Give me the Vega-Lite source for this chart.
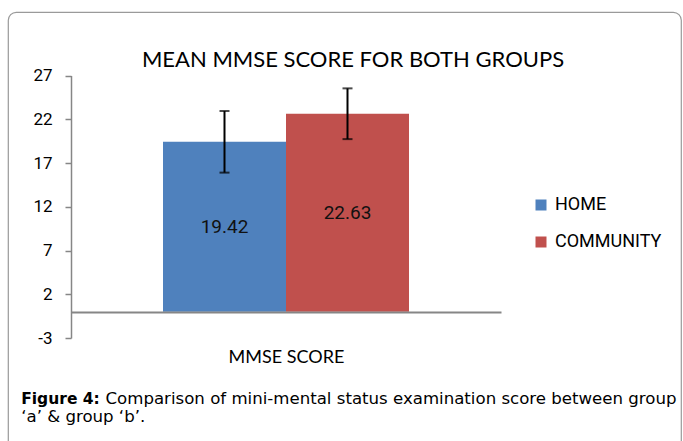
{
  "$schema": "https://vega.github.io/schema/vega-lite/v6.json",
  "width": 673,
  "height": 440,
  "autosize": {"type": "none"},
  "padding": {"left": 8, "top": 12, "right": 2, "bottom": 0},
  "config": {
    "view": {"stroke": "#9a9a9a", "strokeWidth": 1.2, "cornerRadius": 8},
    "font": "Liberation Sans"
  },
  "title": {
    "text": "MEAN MMSE SCORE FOR BOTH GROUPS",
    "font": "Lato",
    "fontSize": 22,
    "fontWeight": "normal",
    "color": "#000000",
    "anchor": "middle",
    "frame": "group",
    "dx": 8.5,
    "offset": -77,
    "baseline": "alphabetic"
  },
  "data": {
    "values": [
      {"group": "HOME", "mean": 19.42, "lo": 15.9, "hi": 22.94},
      {"group": "COMMUNITY", "mean": 22.63, "lo": 19.73, "hi": 25.53}
    ]
  },
  "resolve": {"axis": {"x": "independent"}},
  "layer": [
    {
      "mark": {"type": "bar"},
      "encoding": {
        "x": {
          "field": "group", "type": "nominal", "sort": ["HOME", "COMMUNITY"],
          "scale": {"range": [63, 493], "paddingInner": 0, "paddingOuter": 0.748},
          "axis": {
            "orient": "bottom", "offset": -114, "title": "MMSE SCORE",
            "labels": false, "ticks": false, "domain": false,
            "titleFont": "Lato", "titleFontSize": 18, "titleFontWeight": "normal",
            "titleColor": "#000000", "titleY": 24, "titleBaseline": "alphabetic"
          }
        },
        "y": {
          "field": "mean", "type": "quantitative",
          "scale": {"domain": [-3, 27], "range": [326, 63.5], "zero": false, "nice": false},
          "axis": {
            "title": null, "offset": -63, "values": [-3, 2, 7, 12, 17, 22, 27], "grid": false,
            "labelExpr": "'' + datum.value",
            "domainColor": "#868686", "domainWidth": 1.5, "tickColor": "#868686", "tickWidth": 1.5, "tickSize": 6,
            "labelPadding": 13, "labelFont": "Roboto", "labelFontSize": 17, "labelColor": "#000000"
          }
        },
        "y2": {"datum": 0},
        "color": {
          "field": "group", "type": "nominal",
          "scale": {"domain": ["HOME", "COMMUNITY"], "range": ["#4F81BD", "#C0504D"]},
          "legend": {
            "orient": "none", "legendX": 524, "legendY": 184, "title": null,
            "symbolType": "square", "symbolSize": 121, "symbolStrokeWidth": 0,
            "labelFont": "Roboto", "labelFontSize": 18, "labelColor": "#000000",
            "rowPadding": 19, "labelOffset": 5
          }
        }
      }
    },
    {
      "mark": {"type": "rule", "color": "#000000", "strokeWidth": 2},
      "encoding": {
        "x": {
          "field": "group", "type": "nominal", "sort": ["HOME", "COMMUNITY"],
          "axis": {
            "orient": "bottom", "offset": -140, "title": null, "labels": false, "ticks": false,
            "domain": true, "domainColor": "#868686", "domainWidth": 1.8, "zindex": 1
          }
        },
        "y": {"field": "lo", "type": "quantitative", "axis": {"title": null}},
        "y2": {"field": "hi"}
      }
    },
    {
      "mark": {"type": "tick", "orient": "horizontal", "color": "#000000", "size": 10, "thickness": 2},
      "encoding": {
        "x": {
          "field": "group", "type": "nominal", "sort": ["HOME", "COMMUNITY"],
          "axis": {
            "orient": "bottom", "title": "Figure 4:", "labels": false, "ticks": false, "domain": false,
            "titleX": 12.7, "titleY": -49, "titleAlign": "left", "titleAnchor": "start", "titleBaseline": "alphabetic",
            "titleFont": "DejaVu Sans", "titleFontSize": 15.5, "titleFontWeight": "bold", "titleColor": "#000000"
          }
        },
        "y": {"field": "lo", "type": "quantitative", "axis": {"title": null}}
      }
    },
    {
      "mark": {"type": "tick", "orient": "horizontal", "color": "#000000", "size": 10, "thickness": 2},
      "encoding": {
        "x": {
          "field": "group", "type": "nominal", "sort": ["HOME", "COMMUNITY"],
          "axis": {
            "orient": "bottom", "title": "Comparison of mini-mental status examination score between group", "labels": false, "ticks": false, "domain": false,
            "titleX": 97, "titleY": -49, "titleAlign": "left", "titleAnchor": "start", "titleBaseline": "alphabetic",
            "titleFont": "DejaVu Sans", "titleFontSize": 16.6, "titleFontWeight": "normal", "titleColor": "#000000"
          }
        },
        "y": {"field": "hi", "type": "quantitative", "axis": {"title": null}}
      }
    },
    {
      "transform": [{"calculate": "datum.mean / 2", "as": "label_y"}],
      "mark": {"type": "text", "font": "Roboto", "fontSize": 19, "color": "#111111", "baseline": "middle"},
      "encoding": {
        "x": {
          "field": "group", "type": "nominal", "sort": ["HOME", "COMMUNITY"],
          "axis": {
            "orient": "bottom", "title": "‘a’ & group ‘b’.", "labels": false, "ticks": false, "domain": false,
            "titleX": 12.7, "titleY": -30.5, "titleAlign": "left", "titleAnchor": "start", "titleBaseline": "alphabetic",
            "titleFont": "DejaVu Sans", "titleFontSize": 16.6, "titleFontWeight": "normal", "titleColor": "#000000"
          }
        },
        "y": {"field": "label_y", "type": "quantitative", "axis": {"title": null}},
        "text": {"field": "mean", "type": "quantitative", "format": ".2f"}
      }
    }
  ]
}
